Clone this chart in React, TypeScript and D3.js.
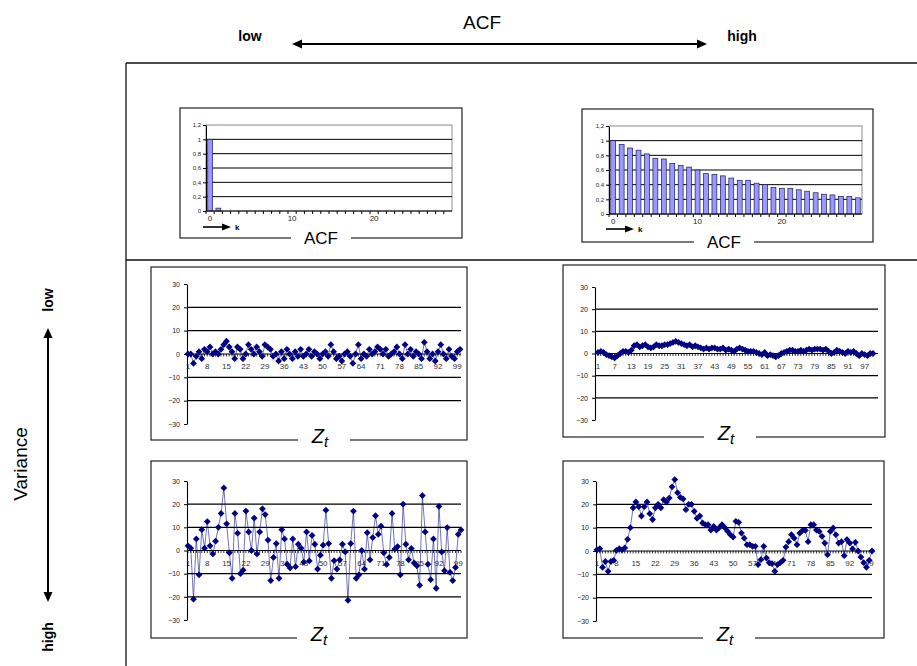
import React, { useEffect, useRef } from "react";
import * as d3 from "d3";

// ACF bar charts (lag k = 0..29)
const lags = [0, 1, 2, 3, 4, 5, 6, 7, 8, 9, 10, 11, 12, 13, 14, 15, 16, 17, 18, 19, 20, 21, 22, 23, 24, 25, 26, 27, 28, 29];
const acfLow = [1, 0.04, 0, 0, 0, 0, 0, 0, 0, 0, 0, 0, 0, 0, 0, 0, 0, 0, 0, 0, 0, 0, 0, 0, 0, 0, 0, 0, 0, 0];
const acfHigh = [1, 0.95, 0.9, 0.87, 0.82, 0.76, 0.75, 0.69, 0.66, 0.64, 0.6, 0.55, 0.54, 0.52, 0.49, 0.46, 0.46, 0.42, 0.4, 0.36,
  0.35, 0.35, 0.33, 0.31, 0.29, 0.27, 0.26, 0.24, 0.24, 0.22];
const acfTicks = [0, 0.2, 0.4, 0.6, 0.8, 1, 1.2];
const acfTickLabels = ["0", "0,2", "0,4", "0,6", "0,8", "1", "1,2"];
const lagLabels = [0, 10, 20];

// time series Z_t, t = 1..100
const timeIndex = d3.range(1, 101);
const zTicks = [-30, -20, -10, 0, 10, 20, 30];
const zGrid = [-20, -10, 10, 20];

const zLowVarLowAcf = [0, 0, -4, -1, 1, -2, 2, 1, 3, 0,
  1, 0, 2, 4, 5.5, 3, 1, -2, 3, 2,
  -2, 0, 4, 2, 0, 3, 1, -1, 4, 3,
  2, -1, 0, -3, 1, -2, 2, 0, -2, 1,
  -1, 2, -1, 0, 2, -1, 1, 0, -2, 0,
  1, -1, 4, 1, -2, -1, -3, 0, 1, -1,
  -4, 0, 4, -2, 0, -1, 2, 0, 1, 3,
  2, 0, 2, -1, 0, 1, 3, 0, -2, 4,
  0, 2, -1, 1, 0, -2, 5, 1, -2, 0,
  -3, 1, 4, 0, -2, 2, -1, -2, 1, 2];

const zLowVarHighAcf = [0.5, 1, 0.5, -0.5, -1, -1.5, -2, -1, 0, 1,
  1, 0.5, 1.5, 3.5, 4, 3, 3.5, 4, 3, 2.5,
  3, 4, 3.5, 3.5, 4, 4, 4.5, 5, 5.5, 5,
  4.5, 4, 3.5, 4, 3, 3.5, 3, 2.5, 2, 2.5,
  2, 2.5, 2.5, 2, 2, 2.5, 1.5, 2, 1.5, 1,
  2, 2.5, 2, 1.5, 1, 1, 1, 0.5, 0, -0.5,
  0.5, -1, -0.5, -1, -1.5, -1, 0, 0.5, 1, 1.5,
  1.5, 1, 1, 1.5, 1, 1.5, 2, 1.5, 2, 2,
  2, 1.5, 2, 1, 0, 0.5, 1.5, 1, 0.5, 0,
  1, 0.5, 1, 0, -1, 0, -0.5, -1, 0, 0];

const zHighVarLowAcf = [2, 1, -21, 5, -10.5, 9, 1, 12.5, 2, -1.5,
  4, 10, 16, 27, 11.5, -1, -12, 16, 7.5, -10,
  -8.5, 17, 8, 0, 14, -1.5, 8, 18, 15.5, 4.5,
  -13, -3, 3, -12, 9, 5, -6, -7.5, 5, -7,
  2.7, 1, -5, 8, -4.5, 6.5, 2.7, -8, -2, 2.3,
  17.4, 3, -12, -4.4, -8, -4, 2.7, -0.6, -21.5, 3,
  17, -12, -10.5, 0, -8, 7.7, -4, 5.6, 15, 7,
  10.5, -1, -6, -3, 16, 0.6, 1.7, -10.5, 20, 2.7,
  -4, 0.9, -5.4, -6.6, -15, 23.7, 8, -5.9, -12.6, 5,
  -16.3, 19, -0.6, -8.7, 9.9, -9.4, -13, -7.3, 7, 8.9];

const zHighVarHighAcf = [0.5, 1, -7, -4.5, -8.7, -4.5, -4, 0.3, 1, 0.5,
  1.3, 5, 10, 18.5, 21, 19, 15, 19, 21, 16,
  13.5, 18.5, 20, 18.5, 22, 21, 22.7, 27.5, 30.6, 25,
  23, 22.3, 17.7, 20, 20, 17, 14, 15, 12, 11.3,
  11.3, 9, 10.5, 9, 10, 11.3, 10, 8.5, 7, 6,
  12.7, 12.3, 7.7, 5.5, 2.7, 2.7, 2, 2, -5.8, -3.7,
  2, -3, -5, -5.4, -8.7, -5.8, -5, -4, 1.7, 4,
  7, 5.5, 2.7, 7.7, 8.8, 8.8, 4, 11.3, 11.3, 9,
  8.4, 6.3, 3.4, -1.6, 8.4, 9.9, 7, 3.4, 4, -2,
  4.9, 3.4, 0.9, 3.7, 0, -2.6, -5, -7, -4, 0];

const SANS = "'Liberation Sans', Arial, sans-serif";
const NARROW = "'Liberation Sans Narrow', 'Arial Narrow', 'Liberation Sans', Arial, sans-serif";
const NAVY = "#000080";

const acfPanels = [
  { values: acfLow, box: { x: 180, y: 108, w: 282, h: 130 }, plot: { x0: 206, x1: 452, y0: 125, y1: 211 }, arrowY: 227, labelX: 321, labelY: 244 },
  { values: acfHigh, box: { x: 582, y: 109, w: 291, h: 133 }, plot: { x0: 609, x1: 862, y0: 126, y1: 214 }, arrowY: 229, labelX: 724, labelY: 248 },
];

const zPanels = [
  { values: zLowVarLowAcf, every: 7, box: { x: 151, y: 267, w: 316, h: 173 }, x0: 187, x1: 461, first: 188, last: 460, yTop: 284, yBot: 424, labelX: 324 },
  { values: zLowVarHighAcf, every: 6, box: { x: 563, y: 265, w: 322, h: 172 }, x0: 595, x1: 878, first: 598, last: 873, yTop: 287, yBot: 420, labelX: 730 },
  { values: zHighVarLowAcf, every: 7, box: { x: 151, y: 461, w: 316, h: 177 }, x0: 187, x1: 461, first: 188, last: 461, yTop: 481, yBot: 620, labelX: 323 },
  { values: zHighVarHighAcf, every: 7, box: { x: 563, y: 461, w: 321, h: 177 }, x0: 596, x1: 872, first: 597, last: 872, yTop: 481, yBot: 621, labelX: 729 },
];

function arrowHead(g, tipX, tipY, dx, dy, len, half) {
  // dx, dy: unit direction the arrow points to
  const bx = tipX - dx * len, by = tipY - dy * len;
  const p = d3.path();
  p.moveTo(tipX, tipY);
  p.lineTo(bx - dy * half, by + dx * half);
  p.lineTo(bx + dy * half, by - dx * half);
  p.closePath();
  g.append("path").attr("d", p.toString()).attr("fill", "#000");
}

function drawFrame(svg) {
  const g = svg.append("g").attr("stroke", "#111").attr("stroke-width", 1.3);
  g.append("line").attr("x1", 126).attr("y1", 63).attr("x2", 917).attr("y2", 63);
  g.append("line").attr("x1", 126).attr("y1", 63).attr("x2", 126).attr("y2", 666);
  g.append("line").attr("x1", 126).attr("y1", 260).attr("x2", 917).attr("y2", 260);

  // top: ACF low <-> high
  svg.append("text").attr("x", 482).attr("y", 29).attr("text-anchor", "middle")
    .style("font-family", NARROW).style("font-size", "19px").text("ACF");
  svg.append("text").attr("x", 250).attr("y", 41).attr("text-anchor", "middle")
    .style("font-family", NARROW).style("font-weight", "bold").style("font-size", "14px").text("low");
  svg.append("text").attr("x", 742).attr("y", 41).attr("text-anchor", "middle")
    .style("font-family", NARROW).style("font-weight", "bold").style("font-size", "14px").text("high");
  const a = svg.append("g");
  a.append("line").attr("x1", 300).attr("y1", 44).attr("x2", 699).attr("y2", 44)
    .attr("stroke", "#000").attr("stroke-width", 2);
  arrowHead(a, 292, 44, -1, 0, 10, 4.5);
  arrowHead(a, 707, 44, 1, 0, 10, 4.5);

  // left: Variance low <-> high
  svg.append("text").attr("transform", "translate(27,464) rotate(-90)").attr("text-anchor", "middle")
    .style("font-family", SANS).style("font-size", "19px").text("Variance");
  svg.append("text").attr("transform", "translate(53,300) rotate(-90)").attr("text-anchor", "middle")
    .style("font-family", NARROW).style("font-weight", "bold").style("font-size", "14px").text("low");
  svg.append("text").attr("transform", "translate(53,637) rotate(-90)").attr("text-anchor", "middle")
    .style("font-family", NARROW).style("font-weight", "bold").style("font-size", "14px").text("high");
  const v = svg.append("g");
  v.append("line").attr("x1", 48).attr("y1", 336).attr("x2", 48).attr("y2", 594)
    .attr("stroke", "#000").attr("stroke-width", 2);
  arrowHead(v, 48, 328, 0, -1, 10, 4.5);
  arrowHead(v, 48, 602, 0, 1, 10, 4.5);
}

function drawBoxLabel(g, cx, baseline, boxBottom, gap) {
  g.append("rect").attr("x", cx - gap / 2).attr("y", boxBottom - 2).attr("width", gap).attr("height", 4).attr("fill", "#fff");
}

function drawAcfPanel(svg, panel) {
  const { box, plot } = panel;
  const g = svg.append("g");
  g.append("rect").attr("x", box.x).attr("y", box.y).attr("width", box.w).attr("height", box.h)
    .attr("fill", "#fff").attr("stroke", "#222").attr("stroke-width", 1.2);

  const x = d3.scaleBand().domain(lags).range([plot.x0, plot.x1]).paddingInner(0.42).paddingOuter(0.21);
  const y = d3.scaleLinear().domain([0, 1.2]).range([plot.y1, plot.y0]);

  g.append("rect").attr("x", plot.x0).attr("y", plot.y0).attr("width", plot.x1 - plot.x0).attr("height", plot.y1 - plot.y0)
    .attr("fill", "none").attr("stroke", "#8c8c8c").attr("stroke-width", 1);

  g.selectAll(".grid").data(acfTicks.slice(1, -1)).enter().append("line")
    .attr("x1", plot.x0).attr("x2", plot.x1).attr("y1", d => y(d)).attr("y2", d => y(d))
    .attr("stroke", "#000").attr("stroke-width", 1);

  g.selectAll(".bar").data(lags.filter(k => panel.values[k] > 0.005)).enter().append("rect")
    .attr("x", k => x(k)).attr("width", x.bandwidth())
    .attr("y", k => y(panel.values[k])).attr("height", k => y(0) - y(panel.values[k]))
    .attr("fill", "#9999ff").attr("stroke", "#1c1c55").attr("stroke-width", 0.7);

  // y axis
  const ya = g.append("g").attr("transform", `translate(${plot.x0},0)`)
    .call(d3.axisLeft(y).tickValues(acfTicks).tickFormat((d, i) => acfTickLabels[i]).tickSize(3).tickSizeOuter(0).tickPadding(2));
  ya.select(".domain").attr("stroke", "#000");
  ya.selectAll("text").style("font-family", SANS).style("font-size", "6px").attr("fill", "#222");

  // x axis with a tick at each category boundary
  const half = x.step() * x.paddingInner() / 2;
  g.append("line").attr("x1", plot.x0).attr("x2", plot.x1).attr("y1", y(0)).attr("y2", y(0)).attr("stroke", "#000").attr("stroke-width", 1.2);
  g.selectAll(".xt").data(lags).enter().append("line")
    .attr("x1", k => x(k) - half).attr("x2", k => x(k) - half)
    .attr("y1", y(0)).attr("y2", y(0) + 3).attr("stroke", "#000");
  g.selectAll(".xl").data(lagLabels).enter().append("text")
    .attr("x", k => x(k) + x.bandwidth() / 2).attr("y", y(0) + 10).attr("text-anchor", "middle")
    .style("font-family", SANS).style("font-size", "8px").attr("fill", "#222").text(k => k);

  // -> k
  const ax = plot.x0 - 3;
  g.append("line").attr("x1", ax).attr("x2", ax + 20).attr("y1", panel.arrowY).attr("y2", panel.arrowY)
    .attr("stroke", "#000").attr("stroke-width", 1.6);
  arrowHead(g, ax + 28, panel.arrowY, 1, 0, 9, 3.5);
  g.append("text").attr("x", ax + 32).attr("y", panel.arrowY + 3)
    .style("font-family", SANS).style("font-weight", "bold").style("font-size", "8px").text("k");

  drawBoxLabel(g, panel.labelX, panel.labelY, box.y + box.h, 60);
  g.append("text").attr("x", panel.labelX).attr("y", panel.labelY).attr("text-anchor", "middle")
    .style("font-family", SANS).style("font-size", "17px").text("ACF");
}

function drawZPanel(svg, panel) {
  const { box } = panel;
  const g = svg.append("g");
  g.append("rect").attr("x", box.x).attr("y", box.y).attr("width", box.w).attr("height", box.h)
    .attr("fill", "#fff").attr("stroke", "#222").attr("stroke-width", 1.2);

  const x = d3.scalePoint().domain(timeIndex).range([panel.first, panel.last]);
  const y = d3.scaleLinear().domain([-30, 30]).range([panel.yBot, panel.yTop]);

  g.selectAll(".grid").data(zGrid).enter().append("line")
    .attr("x1", panel.x0).attr("x2", panel.x1).attr("y1", d => y(d)).attr("y2", d => y(d))
    .attr("stroke", "#000").attr("stroke-width", 1.1);

  const ya = g.append("g").attr("transform", `translate(${panel.x0},0)`)
    .call(d3.axisLeft(y).tickValues(zTicks).tickSize(3).tickSizeOuter(0).tickPadding(4));
  ya.select(".domain").attr("stroke", "#000").attr("stroke-width", 1.1);
  ya.selectAll("text").style("font-family", SANS).style("font-size", "7px").attr("fill", "#222");

  // x axis at zero with a small tick for each t
  g.append("line").attr("x1", panel.x0).attr("x2", panel.x1).attr("y1", y(0)).attr("y2", y(0))
    .attr("stroke", "#000").attr("stroke-width", 1.2);
  g.selectAll(".xt").data(timeIndex).enter().append("line")
    .attr("x1", t => x(t)).attr("x2", t => x(t)).attr("y1", y(0)).attr("y2", y(0) + 2.5)
    .attr("stroke", "#000").attr("stroke-width", 0.8);
  g.selectAll(".xl").data(timeIndex.filter(t => (t - 1) % panel.every === 0)).enter().append("text")
    .attr("x", t => x(t)).attr("y", y(0) + 15).attr("text-anchor", "middle")
    .style("font-family", SANS).style("font-size", "8px").attr("fill", "#333").text(t => t);

  const line = d3.line().x((d, i) => x(timeIndex[i])).y(d => y(d));
  g.append("path").datum(panel.values).attr("d", line)
    .attr("fill", "none").attr("stroke", NAVY).attr("stroke-opacity", 0.55).attr("stroke-width", 1);

  const diamond = d3.symbol().type(d3.symbolSquare).size(23);
  g.selectAll(".pt").data(panel.values).enter().append("path")
    .attr("d", diamond)
    .attr("transform", (d, i) => `translate(${x(timeIndex[i])},${y(d)}) rotate(45)`)
    .attr("fill", NAVY);

  const bottom = box.y + box.h;
  drawBoxLabel(g, panel.labelX, bottom, bottom, 52);
  const lbl = g.append("text").attr("x", panel.labelX - 4).attr("y", bottom + 3)
    .style("font-family", SANS).style("font-style", "italic").style("font-size", "20px").attr("text-anchor", "middle");
  lbl.append("tspan").text("Z");
  lbl.append("tspan").attr("dy", 4).style("font-size", "15px").text("t");
}

function draw(node) {
  const svg = d3.select(node);
  svg.selectAll("*").remove();
  drawFrame(svg);
  acfPanels.forEach(p => drawAcfPanel(svg, p));
  zPanels.forEach(p => drawZPanel(svg, p));
}

export default function App() {
  const ref = useRef(null);
  useEffect(() => {
    draw(ref.current);
  }, []);
  return (
    <svg ref={ref} width={917} height={666}
      style={{ position: "absolute", left: 0, top: 0, background: "#fff", display: "block" }} />
  );
}
